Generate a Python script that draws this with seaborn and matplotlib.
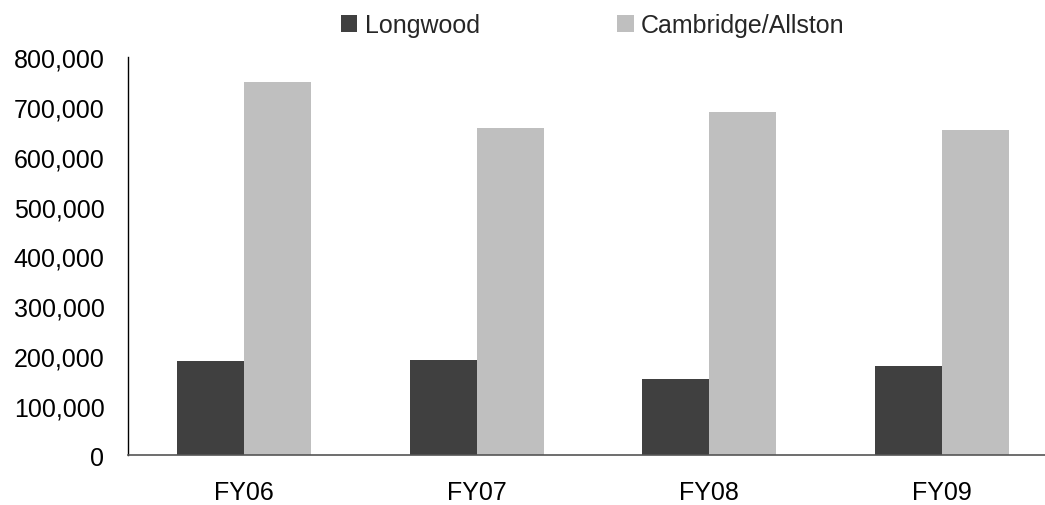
import pandas as pd
import seaborn as sns
from matplotlib import pyplot as plt
from matplotlib.ticker import FuncFormatter

# values
years = ["FY06", "FY07", "FY08", "FY09"]
longwood = [190000, 192000, 153000, 180000]
cambridge = [750000, 658000, 690000, 654000]
campuses = ["Longwood", "Cambridge/Allston"]

df = pd.DataFrame({
    "year": years * 2,
    "campus": [campuses[0]] * len(years) + [campuses[1]] * len(years),
    "value": longwood + cambridge,
})

sns.set_style("white")
plt.rcParams["font.family"] = ["Liberation Sans", "DejaVu Sans"]

fig = plt.figure(figsize=(10.45, 5.06), dpi=100)
ax = fig.add_axes([128 / 1045, 1 - 456.3 / 506, 930 / 1045, 398 / 506])

sns.barplot(data=df, x="year", y="value", hue="campus", hue_order=campuses,
            palette=["#404040", "#bfbfbf"], width=0.577, saturation=1,
            edgecolor="none", linewidth=0, ax=ax)

ax.set_xlim(-0.5, 3.5)
ax.set_ylim(0, 800000)
ax.set_yticks(range(0, 800001, 100000))
ax.yaxis.set_major_formatter(FuncFormatter(lambda v, p: f"{int(v):,}"))
ax.set_xlabel("")
ax.set_ylabel("")
ax.tick_params(axis="both", length=0, labelsize=18, colors="black")
ax.tick_params(axis="y", pad=17)
ax.tick_params(axis="x", pad=18)

for side in ["top", "right"]:
    ax.spines[side].set_visible(False)
ax.spines["left"].set_color("black")
ax.spines["left"].set_linewidth(1.0)
ax.spines["bottom"].set_color("#555555")
ax.spines["bottom"].set_linewidth(1.2)

handles, labels = ax.get_legend_handles_labels()
ax.legend(handles, labels, loc="center", bbox_to_anchor=(0.5, 1.08), ncol=2,
          frameon=False, fontsize=18, handlelength=0.65, handleheight=0.65,
          handletextpad=0.3, columnspacing=5.5, borderaxespad=0)

fig.savefig("out.png", dpi=100)
